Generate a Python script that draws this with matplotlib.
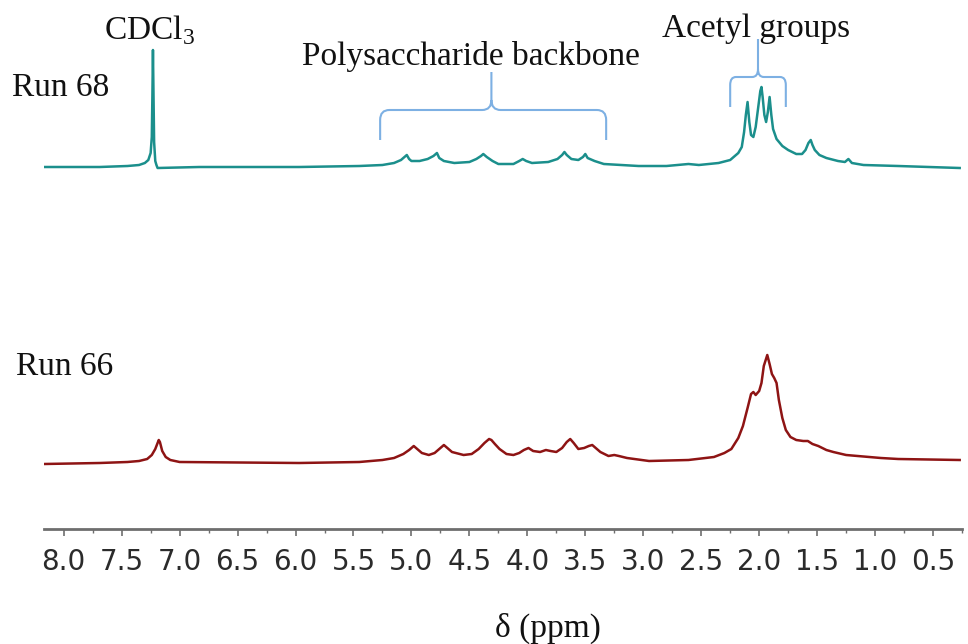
import numpy as np
import matplotlib
matplotlib.use("Agg")
import matplotlib.pyplot as plt
from matplotlib.path import Path
from matplotlib.patches import PathPatch

plt.rcParams['mathtext.fontset'] = 'custom'
plt.rcParams['mathtext.rm'] = 'Liberation Serif'

# spectrum traces: chemical shift (ppm) and height above baseline
ppm_68 = [8.17, 7.69, 7.45, 7.35, 7.30, 7.27, 7.25, 7.24, 7.235, 7.23, 7.225, 7.22, 7.21,
          7.20, 7.19, 6.83, 5.97, 5.45, 5.25, 5.15, 5.09, 5.06, 5.04, 5.02, 5.00, 4.93,
          4.86, 4.81, 4.78, 4.76, 4.72, 4.63, 4.50, 4.44, 4.40, 4.38, 4.35, 4.30, 4.25,
          4.12, 4.07, 4.04, 4.01, 3.96, 3.82, 3.74, 3.70, 3.68, 3.66, 3.62, 3.56, 3.52,
          3.50, 3.48, 3.42, 3.34, 3.04, 2.80, 2.61, 2.52, 2.35, 2.25, 2.18, 2.15, 2.13,
          2.115, 2.10, 2.085, 2.07, 2.05, 2.03, 2.01, 1.99, 1.98, 1.97, 1.955, 1.94, 1.925,
          1.91, 1.895, 1.88, 1.85, 1.80, 1.75, 1.68, 1.63, 1.60, 1.575, 1.555, 1.54, 1.52,
          1.48, 1.42, 1.32, 1.26, 1.23, 1.20, 1.10, 0.80, 0.27]
int_68 = [0, 0, 1, 2, 4, 7, 14, 30, 70, 117, 70, 25, 6,
          2, -1, 0, 0, 1, 2, 4, 7, 10, 12, 8, 6, 6,
          8, 11, 14, 9, 6, 4, 5, 8, 11, 13, 10, 6, 3,
          3, 6, 8, 6, 4, 5, 8, 12, 15, 12, 8, 7, 10,
          13, 9, 6, 3, 1, 1, 3, 2, 4, 7, 14, 20, 35,
          52, 65, 45, 32, 30, 40, 58, 76, 80, 70, 52, 45, 55,
          70, 52, 38, 28, 21, 17, 13, 13, 17, 24, 27, 22, 17,
          12, 9, 6, 5, 8, 4, 2, 1, -1]

ppm_66 = [8.17, 7.69, 7.45, 7.35, 7.28, 7.24, 7.21, 7.19, 7.18, 7.17, 7.15, 7.12, 7.08,
          7.00, 5.97, 5.45, 5.25, 5.15, 5.07, 5.02, 4.98, 4.95, 4.91, 4.85, 4.80, 4.76,
          4.72, 4.69, 4.65, 4.55, 4.48, 4.42, 4.37, 4.33, 4.31, 4.28, 4.24, 4.18, 4.12,
          4.07, 4.03, 3.99, 3.95, 3.89, 3.84, 3.80, 3.75, 3.70, 3.66, 3.63, 3.60, 3.56,
          3.51, 3.47, 3.44, 3.41, 3.37, 3.30, 3.25, 3.21, 3.14, 2.95, 2.61, 2.39, 2.30,
          2.24, 2.18, 2.14, 2.10, 2.07, 2.05, 2.03, 2.00, 1.98, 1.96, 1.93, 1.91, 1.89,
          1.87, 1.85, 1.83, 1.80, 1.77, 1.73, 1.68, 1.62, 1.58, 1.54, 1.49, 1.42, 1.36,
          1.25, 1.15, 0.95, 0.80, 0.27]
int_66 = [-1, 0, 1, 2, 4, 8, 14, 20, 23, 21, 12, 6, 3,
          1, 0, 1, 3, 5, 9, 13, 17, 14, 10, 8, 10, 14,
          18, 15, 11, 8, 9, 14, 20, 24, 23, 19, 14, 9, 8,
          10, 13, 15, 12, 11, 13, 12, 11, 15, 21, 24, 20, 14,
          15, 17, 18, 15, 11, 7, 8, 7, 5, 2, 3, 6, 10,
          14, 25, 37, 55, 69, 71, 68, 72, 80, 97, 108, 99, 89,
          85, 80, 63, 45, 33, 26, 23, 22, 22, 19, 17, 13, 11,
          8, 7, 5, 4, 3]

ticks = [8.0, 7.5, 7.0, 6.5, 6.0, 5.5, 5.0, 4.5, 4.0, 3.5, 3.0, 2.5, 2.0, 1.5, 1.0, 0.5]

W, H = 968, 644
fig = plt.figure(figsize=(W / 100, H / 100), dpi=100)
ax = fig.add_axes([44 / W, (H - 529) / H, (962 - 44) / W, 529 / H])

teal = '#1b8f8c'
red = '#8e1414'
blue = '#7db0e3'
base68, base66 = 362, 66

ax.plot(ppm_68, np.array(int_68) + base68, color=teal, lw=1.8, solid_joinstyle='round')
ax.plot(ppm_66, np.array(int_66) + base66, color=red, lw=1.8, solid_joinstyle='round')

ax.set_xlim(8.17, 0.27)
ax.set_ylim(0, 529)
for s in ['top', 'left', 'right']:
    ax.spines[s].set_visible(False)
ax.spines['bottom'].set_color('#6e6e6e')
ax.spines['bottom'].set_linewidth(2)
ax.set_yticks([])
ax.set_xticks(ticks)
ax.set_xticklabels([f'{t:.1f}' for t in ticks])
ax.set_xticks(np.arange(0.25, 8.2, 0.5), minor=True)
ax.tick_params(axis='x', which='major', length=5, width=1.2, color='#6e6e6e',
               labelsize=20, labelcolor='#2b2b2b', pad=9)
ax.tick_params(axis='x', which='minor', length=3, width=1.0, color='#6e6e6e')
for lab in ax.get_xticklabels():
    lab.set_family('DejaVu Sans')


def bracket(x0, x1, xc, yb, yh, yt, r=0.06, rv=8):
    # curly-style bracket in data coords
    verts = [(x0, yb), (x0, yh - rv), (x0, yh), (x0 - r, yh),
             (xc + r, yh), (xc, yh), (xc, yh + rv), (xc, yt),
             (xc, yh + rv), (xc, yh), (xc - r, yh),
             (x1 + r, yh), (x1, yh), (x1, yh - rv), (x1, yb)]
    codes = [Path.MOVETO, Path.LINETO, Path.CURVE3, Path.CURVE3,
             Path.LINETO, Path.CURVE3, Path.CURVE3, Path.LINETO,
             Path.MOVETO, Path.CURVE3, Path.CURVE3,
             Path.LINETO, Path.CURVE3, Path.CURVE3, Path.LINETO]
    ax.add_patch(PathPatch(Path(verts, codes), fc='none', ec=blue, lw=1.5))


bracket(5.27, 3.32, 4.31, 389, 419, 457, r=0.08, rv=10)
bracket(2.25, 1.77, 2.01, 422, 452, 490, r=0.05, rv=8)

serif = 'Liberation Serif'
tc = '#111111'
fs = 24
fig.text(150 / W, 1 - 30 / H, 'CDCl$_3$', family=serif, fontsize=fs, color=tc,
         ha='center', va='center')
fig.text(471 / W, 1 - 56 / H, 'Polysaccharide backbone', family=serif, fontsize=fs,
         color=tc, ha='center', va='center')
fig.text(756 / W, 1 - 29 / H, 'Acetyl groups', family=serif, fontsize=fs, color=tc,
         ha='center', va='center')
fig.text(12 / W, 1 - 88 / H, 'Run 68', family=serif, fontsize=fs, color=tc,
         ha='left', va='center')
fig.text(16 / W, 1 - 367 / H, 'Run 66', family=serif, fontsize=fs, color=tc,
         ha='left', va='center')
fig.text(548 / W, 1 - 628 / H, 'δ (ppm)', family=serif, fontsize=fs, color=tc,
         ha='center', va='center')

fig.savefig('out.png', dpi=100)
